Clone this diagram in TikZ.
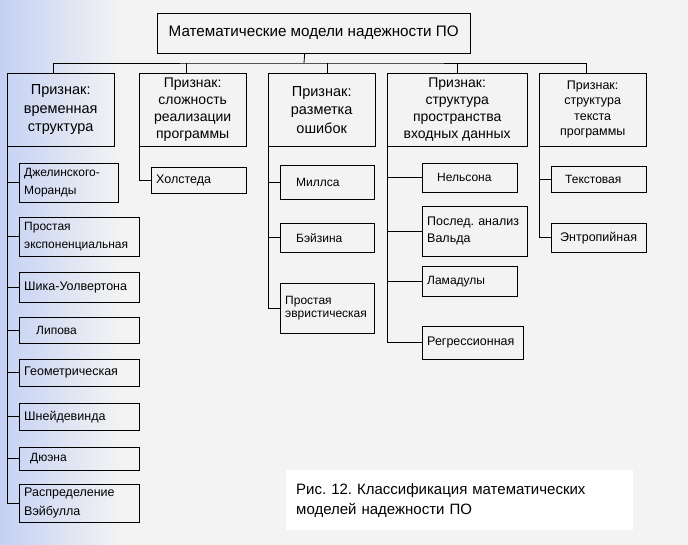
\documentclass[tikz,border=0pt]{standalone}
\usepackage{fontspec}
\setmainfont{Liberation Sans}
\usetikzlibrary{positioning}
\frenchspacing

\definecolor{bgblue}{RGB}{196,209,243}
\definecolor{bgpaper}{RGB}{243,243,243}

\tikzset{
  head/.style={draw, align=center, inner sep=0pt, anchor=north west, font=\fontsize{14}{17}\selectfont},
  leaf/.style={draw, align=left, inner xsep=5pt, inner ysep=0pt, anchor=north west, font=\fontsize{12}{18}\selectfont},
  link/.style={line width=0.8pt}
}

\begin{document}
\begin{tikzpicture}[x=1pt,y=1pt,yscale=-1,xscale=1]
\useasboundingbox (0,0) rectangle (688,545);

%Shape: background
\fill[bgpaper] (0,0) rectangle (688,545);
\shade[left color=bgblue, right color=bgpaper] (0,0) rectangle (120,545);

% Text Node
\node (title) [draw, anchor=north west, minimum width=313, minimum height=40, inner sep=0pt, font=\fontsize{15.2}{18}\selectfont] at (157,13) {Математические модели надежности ПО};

% Text Node
\node (h1) [head, minimum width=107, minimum height=73, font=\fontsize{14.5}{18.5}\selectfont] at (7,73) {Признак:\\временная\\структура};
\node (h2) [head, minimum width=107, minimum height=73] at (139,73) {Признак:\\сложность\\реализации\\программы};
\node (h3) [head, minimum width=107, minimum height=73, font=\fontsize{14.5}{18.5}\selectfont] at (268,73) {Признак:\\разметка\\ошибок};
\node (h4) [head, minimum width=140, minimum height=73] at (387,73) {Признак:\\структура\\пространства\\входных данных};
\node (h5) [head, minimum width=107, minimum height=73, font=\fontsize{12.5}{15.5}\selectfont] at (539,73) {Признак:\\структура\\текста\\программы};

%Shape: bus
\coordinate (bus) at (304,63);
\draw[link] ([xshift=-9]title.south) -- (bus);
\draw[link] ([xshift=-7]h1.north) |- (bus) -| ([xshift=-6]h5.north);
\draw[link] ([xshift=-6]h2.north) -- ([xshift=-6]h2.north |- bus);
\draw[link] ([xshift=6]h3.north) -- ([xshift=6]h3.north |- bus);
\draw[link] (h4.north) -- (h4.north |- bus);

% Text Node: time structure
\node (l1) [leaf, text width=89, minimum height=39] at (19,163) {Джелинского-\\Моранды};
\node (l2) [leaf, text width=110, minimum height=39] at (19,217) {Простая\\экспоненциальная};
\node (l3) [leaf, text width=110, minimum height=30, font=\fontsize{12.5}{18}\selectfont] at (19,272) {Шика-Уолвертона};
\node (l4) [leaf, text width=110, minimum height=26] at (19,317) {\hspace*{12pt}Липова};
\node (l5) [leaf, text width=110, minimum height=27, font=\fontsize{12.5}{18}\selectfont] at (19,359) {Геометрическая};
\node (l6) [leaf, text width=110, minimum height=27, font=\fontsize{12.5}{18}\selectfont] at (19,403) {Шнейдевинда};
\node (l7) [leaf, text width=110, minimum height=23] at (19,447) {\hspace*{6pt}Дюэна};
\node (l8) [leaf, text width=110, minimum height=38, font=\fontsize{12.5}{19}\selectfont] at (19,484) {Распределение\\Вэйбулла};
\draw[link] (h1.south west) |- (l8.west);
\foreach \n in {l1,l2,l3,l4,l5,l6,l7}
  \draw[link] (h1.south west |- \n.west) -- (\n.west);

% Text Node: complexity
\node (c1) [leaf, text width=85, minimum height=26, font=\fontsize{12.5}{18}\selectfont] at (151,167) {Холстеда};
\draw[link] (h2.south west) |- (c1.west);

% Text Node: error seeding
\node (e1) [leaf, text width=84, minimum height=34] at (280,165) {\hspace*{11pt}Миллса};
\node (e2) [leaf, text width=84, minimum height=29] at (280,223) {\hspace*{11pt}Бэйзина};
\node (e3) [leaf, text width=84, minimum height=50, font=\fontsize{12}{13.5}\selectfont] at (280,283) {Простая\\эвристическая};
\draw[link] (h3.south west) |- (e3.west);
\foreach \n in {e1,e2}
  \draw[link] (h3.south west |- \n.west) -- (\n.west);

% Text Node: input domain
\node (d1) [leaf, text width=85, minimum height=29] at (422,163) {\hspace*{10pt}Нельсона};
\node (d2) [leaf, text width=95, minimum height=50, font=\fontsize{12.5}{17}\selectfont] at (422,206) {Послед. анализ\\Вальда};
\node (d3) [leaf, text width=85, minimum height=30] at (422,266) {Ламадулы};
\node (d4) [leaf, text width=91, minimum height=33, font=\fontsize{12.5}{18}\selectfont] at (422,326) {Регрессионная};
\draw[link] (h4.south west) |- (d4.west);
\foreach \n in {d1,d2,d3}
  \draw[link] (h4.south west |- \n.west) -- (\n.west);

% Text Node: program text
\node (t1) [leaf, text width=85, minimum height=26] at (551,166) {\hspace*{9pt}Текстовая};
\node (t2) [leaf, text width=85, minimum height=29, font=\fontsize{12.5}{18}\selectfont] at (551,223) {\hspace*{4pt}Энтропийная};
\draw[link] (h5.south west) |- (t2.west);
\draw[link] (h5.south west |- t1.west) -- (t1.west);

% Text Node: caption
\node (cap) [fill=white, anchor=north west, minimum width=347, minimum height=60, inner xsep=10pt, align=left, text width=327, font=\fontsize{15}{20}\selectfont] at (286,470) {Рис. 12. Классификация математических\\моделей надежности ПО};

\end{tikzpicture}
\end{document}
